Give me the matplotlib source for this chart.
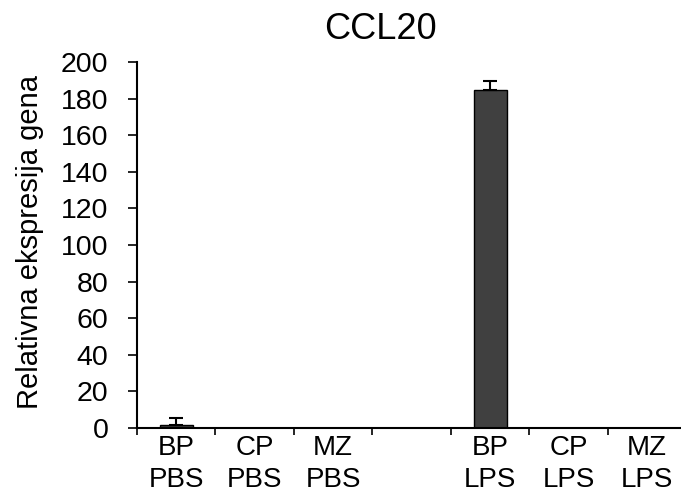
import numpy as np
import matplotlib.pyplot as plt

plt.rcParams['font.family'] = ['Liberation Sans', 'DejaVu Sans']

# podaci
labels = ['BP\nPBS', 'CP\nPBS', 'MZ\nPBS', '', 'BP\nLPS', 'CP\nLPS', 'MZ\nLPS']
values = [1.5, 0, 0, np.nan, 185, 0, 0]
errors = [4, 0, 0, np.nan, 4.5, 0, 0]

fig = plt.figure(figsize=(6.81, 4.97), dpi=100)
ax = fig.add_axes([0.201, 0.139, 0.799, 0.736])

x = np.arange(len(labels))
v = np.nan_to_num(values)
e = np.nan_to_num(errors)
ax.bar(x, v, width=0.42, color='#404040', edgecolor='black', linewidth=1)
mask = e > 0
ax.errorbar(x[mask], v[mask], yerr=[np.zeros(mask.sum()), e[mask]], fmt='none',
            ecolor='black', elinewidth=1.5, capsize=5, capthick=1.5)

ax.set_xlim(-0.5, 6.43)
ax.set_ylim(0, 200)
ax.set_yticks(np.arange(0, 201, 20))

# crtice između kategorija, oznake u sredini
ax.set_xticks(np.arange(-0.5, 6, 1.0))
ax.set_xticklabels([])
ax.set_xticks(x, minor=True)
ax.set_xticklabels(labels, minor=True, linespacing=1.3)
ax.tick_params(axis='x', which='major', length=5, width=1.2, direction='out')
ax.tick_params(axis='x', which='minor', length=0, labelsize=20, pad=5)
ax.tick_params(axis='y', length=6.5, width=1.2, labelsize=20.5, pad=14)

for s in ['top', 'right']:
    ax.spines[s].set_visible(False)
for s in ['left', 'bottom']:
    ax.spines[s].set_linewidth(1.5)

ax.set_ylabel('Relativna ekspresija gena', fontsize=21)
ax.yaxis.set_label_coords(-0.17, 0.508)
fig.text(0.558, 0.94, 'CCL20', fontsize=26, ha='center', va='center')

fig.savefig('out.png', dpi=100)
